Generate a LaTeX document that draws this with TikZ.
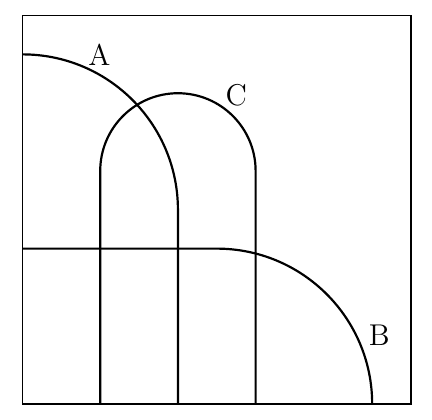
\documentclass[tikz,border=0pt]{standalone}

\begin{document}
\begin{tikzpicture}[
    x=1cm, y=1cm,
    frame line/.style={draw=black, thin},
    set line/.style={draw=black, thick},
    set label/.style={inner sep=1pt, font=\fontsize{11}{13}\selectfont}
]

\useasboundingbox (-0.29,-0.2) rectangle (5.27,5.2);

% Rahmen
\draw[frame line] (0,0) rectangle (5,5);

% Menge A: Viertelkreis mit senkrechtem Schenkel
\draw[set line] (0,4.5) arc[start angle=90, end angle=0, radius=2] -- (2,0);

% Menge B: waagrechter Schenkel mit Viertelkreis
\draw[set line] (0,2) -- (2.5,2) arc[start angle=90, end angle=0, radius=2];

% Menge C: Bogen mit zwei Schenkeln
\draw[set line] (1,0) -- (1,3) arc[start angle=180, end angle=0, radius=1] -- (3,0);

% Beschriftung
\node[set label] (labA) at (0.99,4.49) {A};
\node[set label] (labC) at (2.75,3.98) {C};
\node[set label] (labB) at (4.59,0.88) {B};

\end{tikzpicture}
\end{document}
